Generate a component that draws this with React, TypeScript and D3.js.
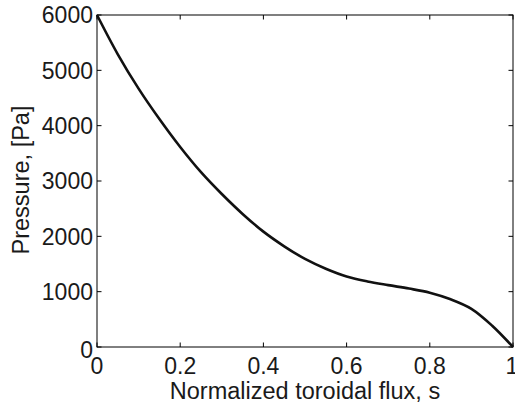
import React from "react";
import * as d3 from "d3";

const fluxS = [0, 0.05, 0.1, 0.15, 0.2, 0.25, 0.3, 0.35, 0.4, 0.45, 0.5, 0.55, 0.6, 0.65, 0.7, 0.75, 0.8, 0.85, 0.9, 0.95, 1.0];
const pressure = [6000, 5290, 4670, 4120, 3615, 3160, 2765, 2405, 2085, 1820, 1592, 1415, 1275, 1185, 1118, 1056, 982, 862, 690, 385, 0];
const xTicks = [0, 0.2, 0.4, 0.6, 0.8, 1];
const yTicks = [0, 1000, 2000, 3000, 4000, 5000, 6000];
const xTickLabels = ["0", "0.2", "0.4", "0.6", "0.8", "1"];
const yTickLabels = ["0", "1000", "2000", "3000", "4000", "5000", "6000"];

const W = 515, H = 409;
const L = 97, R = 513, T = 15, B = 347;
const font = "'Liberation Sans', Arial, Helvetica, sans-serif";

export default function App() {
  const x = d3.scaleLinear().domain([0, 1]).range([L, R]);
  const y = d3.scaleLinear().domain([0, 6000]).range([B, T]);
  const pts = fluxS.map((s, i) => [s, pressure[i]] as [number, number]);
  const line = d3.line<[number, number]>().x(d => x(d[0])).y(d => y(d[1])).curve(d3.curveCatmullRom.alpha(0.5));
  const tl = 4.5;
  return (
    <svg width={W} height={H} style={{ position: "absolute", left: 0, top: 0 }}>
      <rect x={0} y={0} width={W} height={H} fill="#fff" />
      <g stroke="#000" strokeWidth={1} fill="none">
        <rect x={L} y={T} width={R - L} height={B - T} />
        {xTicks.map((t, i) => (
          <g key={"xt" + i}>
            <line x1={x(t)} x2={x(t)} y1={B} y2={B - tl} />
            <line x1={x(t)} x2={x(t)} y1={T} y2={T + tl} />
          </g>
        ))}
        {yTicks.map((t, i) => (
          <g key={"yt" + i}>
            <line x1={L} x2={L + tl} y1={y(t)} y2={y(t)} />
            <line x1={R} x2={R - tl} y1={y(t)} y2={y(t)} />
          </g>
        ))}
      </g>
      <path d={line(pts) || ""} fill="none" stroke="#111" strokeWidth={2.6} />
      <g fontFamily={font} fill="#1a1a1a">
        {xTicks.map((t, i) => (
          <text key={"xl" + i} x={i === xTicks.length - 1 ? x(t) - 1 : x(t)} y={374} fontSize={23} textAnchor="middle">{xTickLabels[i]}</text>
        ))}
        {yTicks.map((t, i) => (
          <text key={"yl" + i} x={93} y={y(t) + (i === 0 ? 3 : 0)} dy="0.36em" fontSize={23} textAnchor="end">{yTickLabels[i]}</text>
        ))}
        <text x={(L + R) / 2} y={398.5} fontSize={23.5} textAnchor="middle">Normalized toroidal flux, s</text>
        <text transform={`translate(${29},${180}) rotate(-90)`} fontSize={23.5} textAnchor="middle">Pressure, [Pa]</text>
      </g>
    </svg>
  );
}
